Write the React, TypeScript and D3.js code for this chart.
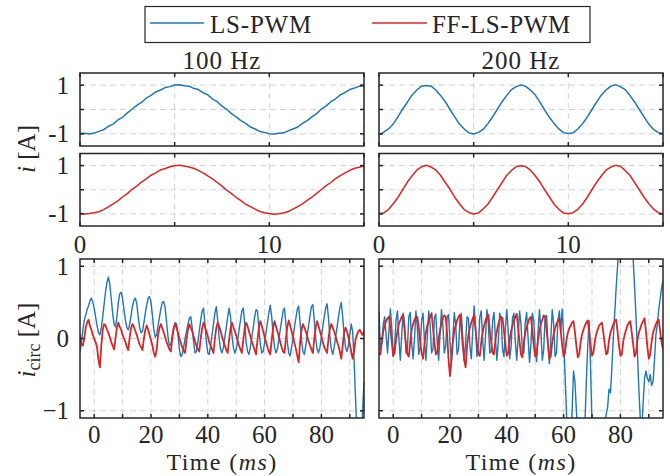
import React from "react";
import * as d3 from "d3";

// ---------- data ----------
const topT0 = 0;
const topStep = 0.25; // ms
const botT0 = -5;
const botStep = 0.5; // ms

const seriesNames = ["LS-PWM", "FF-LS-PWM"];
const columnTitles = ["100 Hz", "200 Hz"];

// i [A], 100 Hz, LS-PWM
const iLs100 = [
  -0.99, -0.98, -1.01, -0.97, -0.9, -0.83, -0.69, -0.6, -0.43, -0.32,
  -0.14, 0.01, 0.17, 0.29, 0.47, 0.58, 0.72, 0.8, 0.9, 0.94,
  1.01, 1.02, 0.98, 0.96, 0.87, 0.82, 0.69, 0.6, 0.43, 0.32,
  0.14, 0.01, -0.17, -0.3, -0.46, -0.57, -0.72, -0.8, -0.9, -0.94,
  -1.0, -1.01, -0.98, -0.96, -0.88, -0.8, -0.72, -0.57, -0.46, -0.3,
  -0.17, 0.02, 0.15, 0.32, 0.44, 0.6, 0.7, 0.82, 0.88, 0.96,
  0.97,
];
// i [A], 100 Hz, FF-LS-PWM
const iFf100 = [
  -0.97, -1.0, -0.98, -0.95, -0.91, -0.82, -0.71, -0.58, -0.46, -0.3,
  -0.16, 0.02, 0.15, 0.32, 0.45, 0.6, 0.7, 0.82, 0.88, 0.95,
  0.99, 1.01, 0.98, 0.94, 0.89, 0.8, 0.7, 0.57, 0.45, 0.3,
  0.15, -0.02, -0.16, -0.32, -0.45, -0.6, -0.7, -0.8, -0.9, -0.95,
  -0.98, -1.01, -0.99, -0.96, -0.9, -0.8, -0.7, -0.58, -0.44, -0.31,
  -0.15, 0.01, 0.17, 0.3, 0.46, 0.58, 0.7, 0.8, 0.89, 0.93,
  0.98,
];
// i [A], 200 Hz, LS-PWM
const iLs200 = [
  -1.04, -0.93, -0.8, -0.6, -0.3, 0.02, 0.3, 0.6, 0.8, 0.96,
  0.99, 0.96, 0.8, 0.58, 0.32, 0.0, -0.3, -0.6, -0.8, -0.96,
  -1.01, -0.94, -0.82, -0.58, -0.3, 0.01, 0.32, 0.58, 0.82, 0.94,
  1.01, 0.95, 0.8, 0.6, 0.3, -0.02, -0.32, -0.58, -0.8, -0.95,
  -0.99, -0.96, -0.8, -0.59, -0.3, 0.0, 0.31, 0.6, 0.81, 0.96,
  1.02, 0.94, 0.82, 0.58, 0.31, 0.0, -0.3, -0.6, -0.82, -0.95,
  -0.99,
];
// i [A], 200 Hz, FF-LS-PWM
const iFf200 = [
  -0.98, -0.96, -0.82, -0.58, -0.32, 0.0, 0.32, 0.58, 0.82, 0.95,
  1.01, 0.94, 0.82, 0.6, 0.3, 0.02, -0.31, -0.58, -0.82, -0.94,
  -1.0, -0.96, -0.8, -0.6, -0.31, 0.0, 0.3, 0.6, 0.8, 0.96,
  0.99, 0.96, 0.81, 0.58, 0.32, 0.0, -0.3, -0.6, -0.81, -0.96,
  -0.99, -0.95, -0.81, -0.6, -0.31, 0.01, 0.31, 0.58, 0.82, 0.94,
  1.01, 0.97, 0.8, 0.6, 0.3, 0.0, -0.31, -0.58, -0.8, -0.95,
  -1.0,
];

// i_circ [A], 100 Hz, LS-PWM (t = -5 .. 95 ms)
const icLs100 = [
  -0.19, -0.05, 0.12, 0.25, 0.32, 0.4, 0.45, 0.52, 0.56, 0.5,
  0.42, 0.3, 0.18, 0.08, 0.05, 0.15, 0.3, 0.48, 0.65, 0.78,
  0.85, 0.75, 0.55, 0.35, 0.2, 0.16, 0.3, 0.5, 0.62, 0.64,
  0.55, 0.4, 0.25, 0.15, 0.12, 0.2, 0.32, 0.45, 0.53, 0.56,
  0.48, 0.3, 0.15, 0.08, 0.1, 0.22, 0.35, 0.47, 0.56, 0.58,
  0.5, 0.32, 0.12, 0.02, 0.05, 0.18, 0.3, 0.42, 0.5, 0.51,
  0.42, 0.22, 0.02, -0.1, -0.08, 0.05, 0.15, 0.22, 0.2, 0.05,
  -0.15, -0.25, -0.22, -0.12, 0.0, 0.1, 0.2, 0.28, 0.3, 0.15,
  -0.05, -0.2, -0.18, -0.05, 0.1, 0.25, 0.38, 0.42, 0.2, -0.05,
  -0.2, -0.22, -0.1, 0.05, 0.2, 0.35, 0.44, 0.25, 0.0, -0.15,
  -0.2, -0.12, 0.02, 0.15, 0.3, 0.42, 0.3, 0.05, -0.12, -0.2,
  -0.15, -0.03, 0.12, 0.25, 0.38, 0.42, 0.2, -0.05, -0.18, -0.22,
  -0.12, 0.02, 0.15, 0.3, 0.4, 0.38, 0.12, -0.08, -0.2, -0.18,
  -0.06, 0.08, 0.22, 0.35, 0.46, 0.3, 0.05, -0.12, -0.2, -0.15,
  -0.02, 0.12, 0.25, 0.38, 0.42, 0.2, -0.05, -0.2, -0.24, -0.12,
  0.0, 0.15, 0.28, 0.4, 0.45, 0.22, -0.02, -0.18, -0.22, -0.1,
  0.05, 0.18, 0.32, 0.44, 0.47, 0.25, 0.0, -0.15, -0.2, -0.12,
  0.02, 0.16, 0.3, 0.42, 0.48, 0.28, 0.02, -0.15, -0.22, -0.12,
  0.02, 0.15, 0.3, 0.42, 0.5, 0.3, 0.05, -0.12, -0.18, -0.1,
  0.05, 0.2, 0.1, -0.3, -0.8, -1.3, -1.6, -1.8, -1.5, -1.0,
  -0.6,
];
// i_circ [A], 100 Hz, FF-LS-PWM
const icFf100 = [
  0.05, -0.08, -0.1, 0.0, 0.15, 0.22, 0.26, 0.18, 0.12, 0.05,
  0.0, -0.05, -0.12, -0.3, -0.4, -0.1, 0.12, 0.2, 0.18, 0.12,
  0.08, 0.02, -0.05, -0.1, -0.15, 0.0, 0.15, 0.22, 0.16, 0.12,
  0.05, 0.0, -0.05, -0.12, -0.16, 0.02, 0.15, 0.2, 0.16, 0.1,
  0.05, -0.02, -0.08, -0.12, -0.16, 0.0, 0.12, 0.18, 0.12, 0.05,
  -0.02, -0.1, -0.2, -0.25, -0.15, 0.05, 0.15, 0.2, 0.14, 0.08,
  0.02, -0.05, -0.1, -0.15, -0.18, 0.0, 0.14, 0.2, 0.15, 0.08,
  0.0, -0.06, -0.12, -0.17, -0.2, -0.02, 0.12, 0.2, 0.15, 0.1,
  0.03, -0.04, -0.1, -0.15, -0.18, 0.0, 0.14, 0.22, 0.16, 0.1,
  0.03, -0.05, -0.1, -0.15, -0.2, 0.0, 0.15, 0.22, 0.17, 0.1,
  0.03, -0.04, -0.1, -0.16, -0.2, -0.02, 0.14, 0.22, 0.16, 0.1,
  0.04, -0.03, -0.1, -0.15, -0.2, -0.02, 0.14, 0.22, 0.17, 0.1,
  0.03, -0.04, -0.1, -0.16, -0.22, -0.02, 0.15, 0.24, 0.18, 0.1,
  0.02, -0.05, -0.12, -0.18, -0.22, -0.02, 0.15, 0.24, 0.17, 0.1,
  0.03, -0.05, -0.12, -0.18, -0.2, 0.0, 0.16, 0.25, 0.18, 0.1,
  0.02, -0.06, -0.14, -0.24, -0.33, -0.05, 0.12, 0.2, 0.15, 0.1,
  0.03, -0.04, -0.1, -0.15, -0.2, 0.0, 0.15, 0.24, 0.17, 0.1,
  0.03, -0.05, -0.12, -0.16, -0.2, 0.0, 0.14, 0.2, 0.15, 0.1,
  0.03, -0.04, -0.1, -0.18, -0.28, -0.1, 0.08, 0.15, 0.1, 0.02,
  -0.08, -0.18, -0.28, -0.18, -0.02, 0.05, 0.1, 0.12, 0.08, 0.05,
  0.1,
];
// i_circ [A], 200 Hz, LS-PWM
const icLs200 = [
  0.37, -0.15, -0.05, 0.2, 0.3, 0.05, -0.2, 0.1, 0.41, 0.15,
  -0.25, -0.1, 0.25, 0.38, 0.0, -0.3, 0.05, 0.35, 0.2, -0.2,
  -0.15, 0.3, 0.36, -0.05, -0.28, 0.0, 0.38, 0.15, -0.22, -0.12,
  0.25, 0.35, -0.02, -0.3, 0.0, 0.38, 0.2, -0.2, -0.15, 0.28,
  0.34, -0.05, -0.3, 0.05, 0.4, 0.18, -0.2, -0.1, 0.3, 0.33,
  -0.05, -0.32, 0.0, 0.36, 0.2, -0.22, -0.15, 0.25, 0.35, 0.0,
  -0.3, -0.05, 0.3, 0.28, -0.1, -0.28, 0.1, 0.45, 0.15, -0.25,
  -0.1, 0.3, 0.38, -0.02, -0.3, 0.02, 0.4, 0.2, -0.2, -0.18,
  0.25, 0.36, 0.0, -0.3, -0.05, 0.35, 0.28, -0.15, -0.25, 0.15,
  0.4, 0.1, -0.28, -0.12, 0.28, 0.35, -0.05, -0.3, 0.02, 0.38,
  0.2, -0.2, -0.2, 0.22, 0.36, 0.0, -0.33, -0.08, 0.35, 0.25,
  -0.15, -0.32, 0.1, 0.4, 0.1, -0.3, -0.15, 0.3, 0.32, -0.08,
  -0.35, 0.0, 0.4, 0.2, -0.25, -0.2, 0.25, 0.38, 0.1, 0.41,
  0.05, -0.5, -1.0, -1.5, -1.9, -1.6, -1.0, -0.45, -0.6, -1.0,
  -1.3, -1.8, -2.2, -2.0, -1.6, -1.2, -0.6, -0.1, 0.25, -0.4,
  -1.2, -1.8, -2.4, -2.7, -2.8, -2.6, -2.3, -1.9, -1.5, -1.2,
  -1.05, -0.95, -0.7, -0.75, -0.4, 0.0, 0.35, 0.7, 1.0, 1.3,
  1.7, 2.0, 2.2, 2.3, 2.3, 2.2, 2.0, 1.8, 1.5, 1.1,
  0.7, 0.3, -0.2, -0.7, -1.1, -1.3, -0.9, -0.55, -0.45, -0.55,
  -0.6, -0.5, -0.65, -0.6, -0.3, 0.05, 0.2, 0.4, 0.55, 0.7,
  0.8,
];
// i_circ [A], 200 Hz, FF-LS-PWM
const icFf200 = [
  -0.2, -0.22, -0.05, 0.1, 0.18, 0.24, 0.28, 0.3, 0.15, -0.05,
  -0.24, -0.2, -0.02, 0.1, 0.2, 0.25, 0.3, 0.33, 0.12, -0.08,
  -0.22, -0.25, -0.05, 0.12, 0.2, 0.26, 0.3, 0.3, 0.15, -0.05,
  -0.2, -0.28, -0.08, 0.08, 0.18, 0.24, 0.3, 0.35, 0.15, -0.05,
  -0.22, -0.2, 0.0, 0.12, 0.2, 0.28, 0.32, 0.3, 0.05, -0.3,
  -0.52, -0.3, -0.05, 0.1, 0.18, 0.25, 0.3, 0.33, 0.15, -0.1,
  -0.3, -0.4, -0.1, 0.05, 0.15, 0.22, 0.28, 0.32, 0.12, -0.08,
  -0.22, -0.24, -0.05, 0.08, 0.18, 0.25, 0.3, 0.33, 0.12, -0.05,
  -0.2, -0.22, -0.02, 0.1, 0.2, 0.26, 0.3, 0.28, 0.1, -0.08,
  -0.24, -0.2, -0.02, 0.1, 0.18, 0.24, 0.3, 0.34, 0.14, -0.05,
  -0.22, -0.26, -0.05, 0.08, 0.16, 0.22, 0.28, 0.3, 0.1, -0.1,
  -0.25, -0.22, -0.02, 0.1, 0.2, 0.26, 0.32, 0.3, 0.12, -0.08,
  -0.28, -0.24, -0.05, 0.06, 0.14, 0.2, 0.25, 0.28, 0.1, -0.1,
  -0.25, -0.2, -0.02, 0.08, 0.14, 0.18, 0.22, 0.24, 0.08, -0.1,
  -0.26, -0.22, -0.05, 0.06, 0.12, 0.18, 0.22, 0.25, 0.1, -0.08,
  -0.24, -0.2, -0.04, 0.06, 0.12, 0.18, 0.2, 0.22, 0.08, -0.08,
  -0.22, -0.2, -0.02, 0.08, 0.14, 0.2, 0.24, 0.26, 0.1, -0.1,
  -0.24, -0.22, -0.04, 0.05, 0.12, 0.18, 0.22, 0.24, 0.08, -0.08,
  -0.25, -0.2, -0.02, 0.08, 0.14, 0.2, 0.24, 0.28, 0.1, -0.12,
  -0.28, -0.22, -0.04, 0.08, 0.14, 0.2, 0.24, 0.26, 0.1, -0.05,
  -0.15,
];

// ticks
const topXDomain = [0, 15];
const topXTicks = [0, 5, 10, 15];
const topXTickLabels = ["0", "", "10", ""];
const topYDomain = [-1.5, 1.5];
const topYTicks = [-1, 0, 1];
const topYTickLabels = ["-1", "", "1"];
const botXDomain = [-5, 95];
const botXTicks = [0, 10, 20, 30, 40, 50, 60, 70, 80, 90];
const botXTickLabels = ["0", "", "20", "", "40", "", "60", "", "80", ""];
const botYDomain = [-1.1, 1.1];
const botYTicks = [-1, 0, 1];
const botYTickLabels = ["\u22121", "0", "1"];

// ---------- style ----------
const W = 670;
const H = 476;
const FONT = "'Liberation Serif', 'Times New Roman', serif";
const INK = "#262626";
const BLUE = "#1f77b4";
const RED = "#d62728";
const GRID = "#d4d4d4";
const TICK = 4;

const cols = [
  [80, 364],
  [379, 663],
];
const rowsY = {
  top1: [73, 146],
  top2: [153.5, 226],
  bot: [259, 418],
};

type Series = { values: number[]; t0: number; step: number; color: string; width: number };

function Panel(props: {
  id: string;
  x: number[];
  y: number[];
  xDomain: number[];
  yDomain: number[];
  xTicks: number[];
  yTicks: number[];
  xLabels?: string[];
  yLabels?: string[];
  xLabelBaseline?: number;
  series: Series[];
}) {
  const { id, x, y, xDomain, yDomain, xTicks, yTicks, xLabels, yLabels, xLabelBaseline, series } = props;
  const xs = d3.scaleLinear().domain(xDomain).range([x[0], x[1]]);
  const ys = d3.scaleLinear().domain(yDomain).range([y[1], y[0]]);
  const line = (s: Series) =>
    d3
      .line<number>()
      .x((_, i) => xs(s.t0 + i * s.step))
      .y((v) => ys(v))(s.values) || "";
  return (
    <g>
      <defs>
        <clipPath id={id}>
          <rect x={x[0]} y={y[0]} width={x[1] - x[0]} height={y[1] - y[0]} />
        </clipPath>
      </defs>
      <rect x={x[0]} y={y[0]} width={x[1] - x[0]} height={y[1] - y[0]} fill="#fff" />
      <g stroke={GRID} strokeWidth={1} strokeDasharray="6,4">
        {xTicks.map((t) => (
          <line key={"gx" + t} x1={xs(t)} x2={xs(t)} y1={y[0]} y2={y[1]} />
        ))}
        {yTicks.map((t) => (
          <line key={"gy" + t} x1={x[0]} x2={x[1]} y1={ys(t)} y2={ys(t)} />
        ))}
      </g>
      <g clipPath={`url(#${id})`}>
        {series.map((s, k) => (
          <path key={k} d={line(s)} fill="none" stroke={s.color} strokeWidth={s.width} strokeLinejoin="round" />
        ))}
      </g>
      <g stroke={INK} strokeWidth={1.5}>
        {xTicks.map((t) => (
          <g key={"tx" + t}>
            <line x1={xs(t)} x2={xs(t)} y1={y[1]} y2={y[1] - TICK} />
            <line x1={xs(t)} x2={xs(t)} y1={y[0]} y2={y[0] + TICK} />
          </g>
        ))}
        {yTicks.map((t) => (
          <g key={"ty" + t}>
            <line x1={x[0]} x2={x[0] + TICK} y1={ys(t)} y2={ys(t)} />
            <line x1={x[1]} x2={x[1] - TICK} y1={ys(t)} y2={ys(t)} />
          </g>
        ))}
      </g>
      <rect x={x[0]} y={y[0]} width={x[1] - x[0]} height={y[1] - y[0]} fill="none" stroke={INK} strokeWidth={1.5} />
      <g fontFamily={FONT} fontSize={25} fill={INK}>
        {xLabels &&
          xTicks.map((t, i) =>
            xLabels[i] ? (
              <text key={"lx" + t} x={xs(t)} y={xLabelBaseline} textAnchor="middle">
                {xLabels[i]}
              </text>
            ) : null
          )}
        {yLabels &&
          yTicks.map((t, i) =>
            yLabels[i] ? (
              <text key={"ly" + t} x={x[0] - 11} y={ys(t) + 8.5} textAnchor="end">
                {yLabels[i]}
              </text>
            ) : null
          )}
      </g>
    </g>
  );
}

export default function App() {
  const topData = [
    [iLs100, iFf100],
    [iLs200, iFf200],
  ];
  const botData = [
    [icLs100, icFf100],
    [icLs200, icFf200],
  ];
  return (
    <svg
      width={W}
      height={H}
      viewBox={`0 0 ${W} ${H}`}
      style={{ position: "absolute", left: 0, top: 0, background: "#fff" }}
    >
      <rect x={0} y={0} width={W} height={H} fill="#fff" />
      <g>
        <rect x={145} y={6.5} width={445} height={36} fill="#fff" stroke={INK} strokeWidth={1.2} />
        <line x1={150} x2={204} y1={23} y2={23} stroke={BLUE} strokeWidth={1.5} />
        <text x={210} y={33} fontFamily={FONT} fontSize={25} fill={INK} letterSpacing={0.8}>
          {seriesNames[0]}
        </text>
        <line x1={372} x2={427} y1={23} y2={23} stroke={RED} strokeWidth={1.5} />
        <text x={432} y={33} fontFamily={FONT} fontSize={25} fill={INK} letterSpacing={0.6}>
          {seriesNames[1]}
        </text>
      </g>
      {cols.map((c, k) => (
        <text
          key={"title" + k}
          x={(c[0] + c[1]) / 2}
          y={69}
          textAnchor="middle"
          fontFamily={FONT}
          fontSize={25}
          fill={INK}
          letterSpacing={1}
        >
          {columnTitles[k]}
        </text>
      ))}
      {cols.map((c, k) => (
        <g key={"col" + k}>
          <Panel
            id={`clipA${k}`}
            x={c}
            y={rowsY.top1}
            xDomain={topXDomain}
            yDomain={topYDomain}
            xTicks={topXTicks}
            yTicks={topYTicks}
            yLabels={k === 0 ? topYTickLabels : undefined}
            series={[{ values: topData[k][0], t0: topT0, step: topStep, color: BLUE, width: 1.5 }]}
          />
          <Panel
            id={`clipB${k}`}
            x={c}
            y={rowsY.top2}
            xDomain={topXDomain}
            yDomain={topYDomain}
            xTicks={topXTicks}
            yTicks={topYTicks}
            yLabels={k === 0 ? topYTickLabels : undefined}
            xLabels={topXTickLabels}
            xLabelBaseline={253}
            series={[{ values: topData[k][1], t0: topT0, step: topStep, color: RED, width: 1.5 }]}
          />
          <Panel
            id={`clipC${k}`}
            x={c}
            y={rowsY.bot}
            xDomain={botXDomain}
            yDomain={botYDomain}
            xTicks={botXTicks}
            yTicks={botYTicks}
            yLabels={k === 0 ? botYTickLabels : undefined}
            xLabels={botXTickLabels}
            xLabelBaseline={443}
            series={[
              { values: botData[k][0], t0: botT0, step: botStep, color: BLUE, width: 1.4 },
              { values: botData[k][1], t0: botT0, step: botStep, color: RED, width: 1.8 },
            ]}
          />
          <text
            x={(c[0] + c[1]) / 2}
            y={470}
            textAnchor="middle"
            fontFamily={FONT}
            fontSize={24}
            fill={INK}
            letterSpacing={1.4}
          >
            Time (<tspan fontStyle="italic">ms</tspan>)
          </text>
        </g>
      ))}
      <text
        transform="translate(35,149) rotate(-90)"
        textAnchor="middle"
        fontFamily={FONT}
        fontSize={25}
        fill={INK}
      >
        <tspan fontStyle="italic">i</tspan> [A]
      </text>
      <text
        transform="translate(35,340) rotate(-90)"
        textAnchor="middle"
        fontFamily={FONT}
        fontSize={25}
        fill={INK}
      >
        <tspan fontStyle="italic">i</tspan>
        <tspan fontSize={18} dy={5}>
          circ
        </tspan>
        <tspan dy={-5}> [A]</tspan>
      </text>
    </svg>
  );
}
